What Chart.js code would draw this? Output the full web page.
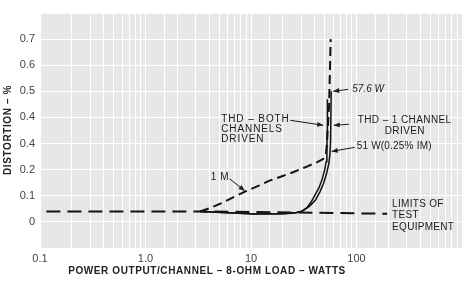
<!DOCTYPE html>
<html>
<head>
<meta charset="utf-8">
<script src="https://cdn.jsdelivr.net/npm/chart.js@4/dist/chart.umd.min.js"></script>
<style>
html,body{margin:0;padding:0;background:#fff;}
#wrap{width:466px;height:287px;position:relative;}
</style>
</head>
<body>
<div id="wrap"><canvas id="c"></canvas></div>
<script>
// ---- data ----
const wattsLimit = [0.115, 3.3, 27, 60, 195];
const distLimit  = [0.040, 0.040, 0.036, 0.034, 0.031];

const wattsIM = [3.3, 4.2, 5.4, 7, 9.1, 12, 15, 20, 25, 33, 42, 48, 51, 52.5, 55, 56.9];
const distIM  = [0.040, 0.055, 0.074, 0.097, 0.119, 0.140, 0.158, 0.176, 0.190, 0.210, 0.228, 0.240, 0.250, 0.300, 0.450, 0.700];

const wattsTHDBoth = [3.3, 6, 11, 20, 26, 30, 34, 37, 40, 44, 47, 50, 51.5, 52.4, 52.8, 53];
const distTHDBoth  = [0.040, 0.035, 0.030, 0.031, 0.034, 0.040, 0.055, 0.075, 0.100, 0.130, 0.160, 0.200, 0.230, 0.280, 0.350, 0.470];

const wattsTHD1 = [3.3, 6, 11, 20, 27, 31, 36, 41, 45, 49, 52, 54.5, 56, 56.8, 57.6];
const distTHD1  = [0.040, 0.035, 0.030, 0.031, 0.036, 0.042, 0.060, 0.085, 0.115, 0.150, 0.185, 0.220, 0.260, 0.310, 0.500];

const xTickValues = [0.1, 1, 10, 100];
const xTickText   = ['0.1', '1.0', '10', '100'];
const yTickValues = [0, 0.1, 0.2, 0.3, 0.4, 0.5, 0.6, 0.7];
const yTickText   = ['0', '0.1', '0.2', '0.4', '0.4', '0.5', '0.6', '0.7'];

const xTitle = 'POWER OUTPUT/CHANNEL \u2013 8-OHM LOAD \u2013 WATTS';
const yTitle = 'DISTORTION \u2013 %';

const pts = (xs, ys) => xs.map((x, i) => ({x: x, y: ys[i]}));

// annotation texts (anchored on data points)
const notes = [
  {at: [57.6, 0.50], tip: [2, 0], tail: [17, -2], lines: [['57.6 W', 21, -2]], italic: true},
  {at: [52.8, 0.37], tip: [-4, 0], tail: [-37, -5], lines: [['THD \u2013 BOTH', -106, -6], ['CHANNELS', -106, 4], ['DRIVEN', -106, 14]], ls: 0.9},
  {at: [57.0, 0.37], tip: [3, 0], tail: [18, -1], lines: [['THD \u2013 1 CHANNEL', 27, -5], ['DRIVEN', 54, 6]], ls: 0.4},
  {at: [51, 0.27], tip: [6, 0], tail: [29, -4], lines: [['51 W(0.25% IM)', 31, -5]], ls: 0.2},
  {at: [9.1, 0.119], tip: [-2, 0], tail: [-17, -12], lines: [['1 M', -36, -14]], ls: 0.6},
  {at: [195, 0.031], lines: [['LIMITS OF', 5, -10], ['TEST', 5, 1], ['EQUIPMENT', 5, 13]], ls: 0.3}
];

const bgPlugin = {
  id: 'bg',
  beforeDraw(chart) {
    const {ctx, chartArea: a} = chart;
    ctx.save();
    ctx.fillStyle = '#e7e7e7';
    ctx.fillRect(a.left, a.top, a.right - a.left, a.bottom - a.top);
    ctx.restore();
  },
  afterDraw(chart) {
    const ctx = chart.ctx;
    const xs = chart.scales.x, ys = chart.scales.y;
    ctx.save();
    ctx.fillStyle = '#1a1a1a';
    ctx.strokeStyle = '#1a1a1a';
    ctx.textBaseline = 'middle';
    ctx.textAlign = 'left';
    notes.forEach(n => {
      const px = xs.getPixelForValue(n.at[0]);
      const py = ys.getPixelForValue(n.at[1]);
      if (n.tip) {
        const tx = px + n.tip[0], ty = py + n.tip[1];
        const sx = px + n.tail[0], sy = py + n.tail[1];
        ctx.lineWidth = 1;
        ctx.beginPath(); ctx.moveTo(sx, sy); ctx.lineTo(tx, ty); ctx.stroke();
        const ang = Math.atan2(ty - sy, tx - sx);
        const L = 6, W = 2.5;
        ctx.beginPath();
        ctx.moveTo(tx, ty);
        ctx.lineTo(tx - L * Math.cos(ang) + W * Math.sin(ang), ty - L * Math.sin(ang) - W * Math.cos(ang));
        ctx.lineTo(tx - L * Math.cos(ang) - W * Math.sin(ang), ty - L * Math.sin(ang) + W * Math.cos(ang));
        ctx.closePath(); ctx.fill();
      }
      ctx.font = (n.italic ? 'italic ' : '') + '10px "Liberation Sans", Arial, sans-serif';
      ctx.letterSpacing = (n.ls || 0) + 'px';
      n.lines.forEach(l => ctx.fillText(l[0], px + l[1], py + l[2]));
    });
    // axis titles
    ctx.letterSpacing = '0.6px';
    ctx.font = 'bold 10px "Liberation Sans", Arial, sans-serif';
    ctx.textAlign = 'center';
    ctx.fillStyle = '#222';
    ctx.fillText(xTitle, 207, 271);
    ctx.translate(8, 130);
    ctx.rotate(-Math.PI / 2);
    ctx.fillText(yTitle, 0, 0);
    ctx.restore();
  }
};

new Chart(document.getElementById('c'), {
  type: 'line',
  data: {
    datasets: [
      {data: pts(wattsLimit, distLimit), borderColor: '#111', borderWidth: 2, borderDash: [14, 7], pointRadius: 0, tension: 0},
      {data: pts(wattsIM, distIM), borderColor: '#111', borderWidth: 2, borderDash: [9, 5], pointRadius: 0, tension: 0},
      {data: pts(wattsTHDBoth, distTHDBoth), borderColor: '#111', borderWidth: 1.5, pointRadius: 0, tension: 0},
      {data: pts(wattsTHD1, distTHD1), borderColor: '#111', borderWidth: 1.5, pointRadius: 0, tension: 0}
    ]
  },
  options: {
    responsive: true,
    maintainAspectRatio: false,
    animation: false,
    devicePixelRatio: 1,
    layout: {padding: {top: 13, right: 1, left: 0, bottom: 0}},
    plugins: {legend: {display: false}, tooltip: {enabled: false}},
    scales: {
      x: {
        type: 'logarithmic', min: 0.1, max: 1000,
        border: {display: false},
        grid: {color: '#ffffff', lineWidth: 1, drawTicks: false},
        ticks: {
          autoSkip: false, maxRotation: 0, padding: 4, color: '#444',
          font: {family: '"Liberation Sans", Arial, sans-serif', size: 11},
          callback: (v) => {
            const i = xTickValues.findIndex(t => Math.abs(Math.log10(v) - Math.log10(t)) < 1e-6);
            return i >= 0 ? xTickText[i] : '';
          }
        },
        afterFit: (s) => { s.height = 39; }
      },
      y: {
        type: 'linear', min: -0.1, max: 0.8,
        border: {display: false},
        grid: {color: '#ffffff', lineWidth: 1, drawTicks: false},
        ticks: {
          stepSize: 0.05, padding: 5, color: '#444',
          font: {family: '"Liberation Sans", Arial, sans-serif', size: 11},
          callback: (v) => {
            const i = yTickValues.findIndex(t => Math.abs(v - t) < 1e-6);
            return i >= 0 ? yTickText[i] : '';
          }
        },
        afterFit: (s) => { s.width = 40; }
      }
    }
  },
  plugins: [bgPlugin]
});
</script>
</body>
</html>
